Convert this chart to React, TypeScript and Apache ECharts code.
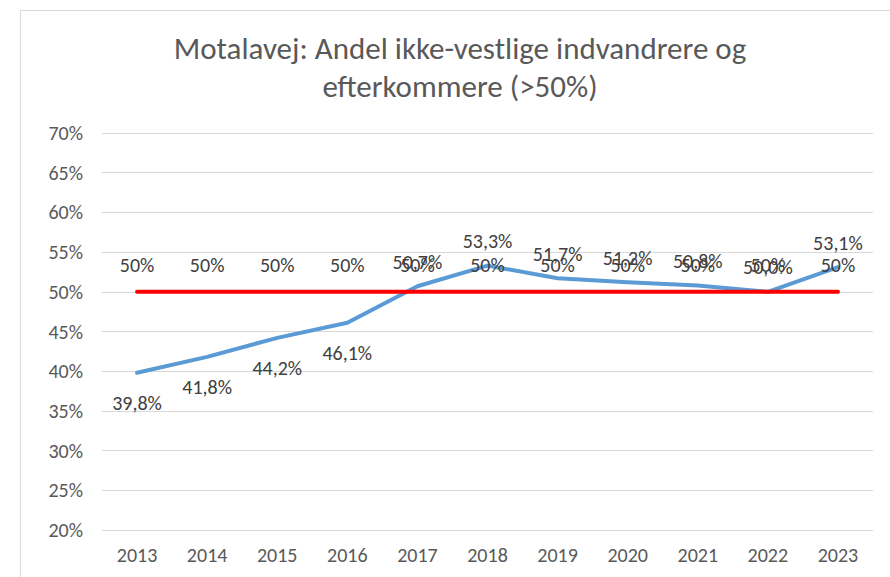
import React, { useEffect, useRef } from "react";
import * as echarts from "echarts";

const years = ["2013", "2014", "2015", "2016", "2017", "2018", "2019", "2020", "2021", "2022", "2023"];
const shareValues = [39.8, 41.8, 44.2, 46.1, 50.7, 53.3, 51.7, 51.2, 50.8, 50.0, 53.1];
const shareLabelPos = ["bottom", "bottom", "bottom", "bottom", "top", "top", "top", "top", "top", "top", "top"];
const thresholdValues = [50, 50, 50, 50, 50, 50, 50, 50, 50, 50, 50];
const titleText = "Motalavej: Andel ikke-vestlige indvandrere og\nefterkommere (>50%)";

const FONT = "Calibri, Carlito, Lato, 'Open Sans', sans-serif";

export default function App() {
  const ref = useRef<HTMLDivElement>(null);
  useEffect(() => {
    document.body.style.margin = "0";
    const chart = echarts.init(ref.current!, null, { renderer: "svg" });
    const fmt = (v: number) => v.toFixed(1).replace(".", ",") + "%";
    chart.setOption({
      animation: false,
      backgroundColor: "#ffffff",
      title: {
        text: titleText,
        left: 455,
        top: 24,
        textAlign: "center",
        textStyle: { fontFamily: FONT, fontSize: 31, fontWeight: "normal", color: "#595959", lineHeight: 38 },
      },
      graphic: [
        {
          type: "rect",
          shape: { x: 20.5, y: 10.5, width: 900, height: 600 },
          style: { fill: "none", stroke: "#d9d9d9", lineWidth: 1 },
          silent: true,
        },
      ],
      grid: { left: 102, right: 17, top: 133, bottom: 47 },
      xAxis: {
        type: "category",
        data: years,
        boundaryGap: true,
        axisLine: { show: false },
        axisTick: { show: false },
        axisLabel: { fontFamily: FONT, fontSize: 20, color: "#595959", margin: 15 },
      },
      yAxis: {
        type: "value",
        min: 20,
        max: 70,
        interval: 5,
        axisLine: { show: false },
        axisTick: { show: false },
        splitLine: { lineStyle: { color: "#d9d9d9", width: 1 } },
        axisLabel: { fontFamily: FONT, fontSize: 20, color: "#595959", margin: 19, formatter: (v: number) => v + "%" },
      },
      series: [
        {
          type: "line",
          data: shareValues.map((v, i) => ({
            value: v,
            label: { position: shareLabelPos[i], distance: shareLabelPos[i] === "bottom" ? 20 : 14 },
          })),
          symbol: "circle",
          symbolSize: 1,
          showSymbol: true,
          itemStyle: { color: "rgba(0,0,0,0)", borderWidth: 0 },
          lineStyle: { color: "#5B9BD5", width: 4, cap: "round", join: "round" },
          label: {
            show: true,
            fontFamily: FONT,
            fontSize: 20,
            color: "#404040",
            formatter: (p: any) => fmt(p.value),
          },
          labelLayout: { hideOverlap: false },
          z: 3,
        },
        {
          type: "line",
          data: thresholdValues,
          symbol: "circle",
          symbolSize: 1,
          showSymbol: true,
          itemStyle: { color: "rgba(0,0,0,0)", borderWidth: 0 },
          lineStyle: { color: "#FF0000", width: 4, cap: "round" },
          label: {
            show: true,
            position: "top",
            distance: 16,
            fontFamily: FONT,
            fontSize: 20,
            color: "#404040",
            formatter: (p: any) => p.value + "%",
          },
          labelLayout: { hideOverlap: false },
          z: 4,
        },
      ],
    });
    return () => chart.dispose();
  }, []);
  return <div ref={ref} style={{ width: 890, height: 577 }} />;
}
